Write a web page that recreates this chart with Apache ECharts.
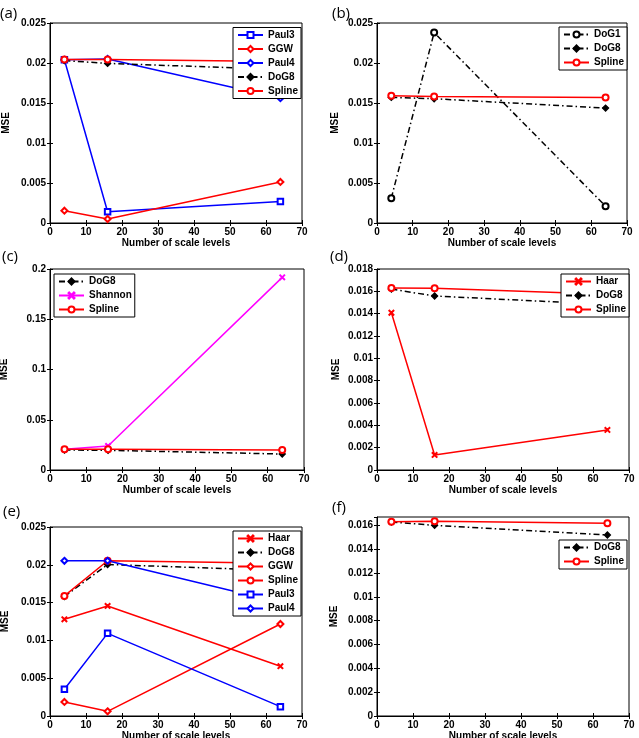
<!DOCTYPE html>
<html><head><meta charset="utf-8">
<script src="https://cdn.jsdelivr.net/npm/echarts@6.0.0/dist/echarts.min.js"></script>
<style>html,body{margin:0;padding:0;background:#fff}#c{width:639px;height:738px}</style>
</head><body><div id="c"></div>
<script>
// ---------- data ----------
const xLevels = [4, 16, 64];
const xTickRange = [0, 70, 10];
const panelLabels = ['(a)', '(b)', '(c)', '(d)', '(e)', '(f)'];
const yTickRanges = [[0, 0.025, 0.005], [0, 0.025, 0.005], [0, 0.2, 0.05], [0, 0.018, 0.002], [0, 0.025, 0.005], [0, 0.0167, 0.002]];

// (a)
const a_Paul3  = [0.0204, 0.0014, 0.0027];
const a_GGW    = [0.00154, 0.0005, 0.00513];
const a_Paul4  = [0.0204, 0.0205, 0.0156];
const a_DoG8   = [0.0203, 0.01995, 0.0192];
const a_Spline = [0.02045, 0.02045, 0.0202];
// (b)
const b_DoG1   = [0.0031, 0.0238, 0.0021];
const b_DoG8   = [0.0157, 0.01553, 0.01436];
const b_Spline = [0.0159, 0.0158, 0.0157];
// (c)
const c_DoG8    = [0.0199, 0.0196, 0.0159];
const c_Shannon = [0.0206, 0.0239, 0.1917];
const c_Spline  = [0.0206, 0.0206, 0.0199];
// (d)
const d_Haar   = [0.01408, 0.00135, 0.00359];
const d_DoG8   = [0.0162, 0.01558, 0.01483];
const d_Spline = [0.0163, 0.01627, 0.01573];
// (e)
const e_Haar   = [0.01279, 0.01456, 0.00659];
const e_DoG8   = [0.0158, 0.02004, 0.01925];
const e_GGW    = [0.00186, 0.00062, 0.01217];
const e_Spline = [0.01588, 0.02053, 0.0202];
const e_Paul3  = [0.00354, 0.01093, 0.00124];
const e_Paul4  = [0.02053, 0.02053, 0.0150];
// (f)
const f_DoG8   = [0.01628, 0.0160, 0.01519];
const f_Spline = [0.01631, 0.01634, 0.01617];

const panels = [
  [['Paul3', a_Paul3], ['GGW', a_GGW], ['Paul4', a_Paul4], ['DoG8', a_DoG8], ['Spline', a_Spline]],
  [['DoG1', b_DoG1], ['DoG8', b_DoG8], ['Spline', b_Spline]],
  [['DoG8', c_DoG8], ['Shannon', c_Shannon], ['Spline', c_Spline]],
  [['Haar', d_Haar], ['DoG8', d_DoG8], ['Spline', d_Spline]],
  [['Haar', e_Haar], ['DoG8', e_DoG8], ['GGW', e_GGW], ['Spline', e_Spline], ['Paul3', e_Paul3], ['Paul4', e_Paul4]],
  [['DoG8', f_DoG8], ['Spline', f_Spline]]
];

// ---------- styles / layout ----------
const X_MARK = 'path://M0,1L1,0L5,4L9,0L10,1L6,5L10,9L9,10L5,6L1,10L0,9L4,5Z';
const DASHDOT = [6, 3, 1.5, 3];
const styles = {
  Paul3:   {color: '#0000ff', symbol: 'emptyRect', size: 5.5, dash: 'solid'},
  GGW:     {color: '#ff0000', symbol: 'emptyDiamond', size: 6, dash: 'solid'},
  Paul4:   {color: '#0000ff', symbol: 'emptyDiamond', size: 6, dash: 'solid'},
  DoG8:    {color: '#000000', symbol: 'diamond', size: 6, dash: DASHDOT},
  Spline:  {color: '#ff0000', symbol: 'emptyCircle', size: 6, dash: 'solid'},
  DoG1:    {color: '#000000', symbol: 'emptyCircle', size: 6, dash: DASHDOT},
  Shannon: {color: '#ff00ff', symbol: X_MARK, size: 5, dash: 'solid'},
  Haar:    {color: '#ff0000', symbol: X_MARK, size: 5, dash: 'solid'}
};
const grids = [
  {left: 50, top: 23, width: 252, height: 200},
  {left: 377, top: 23, width: 250, height: 200},
  {left: 50, top: 269, width: 254, height: 201},
  {left: 377, top: 269, width: 252, height: 201},
  {left: 50, top: 527, width: 252, height: 189},
  {left: 377, top: 517, width: 252, height: 199}
];
const legendPos = [
  {left: 233, top: 27.5},
  {left: 559, top: 27},
  {left: 54, top: 274},
  {left: 561, top: 274},
  {left: 233, top: 531},
  {left: 559, top: 540}
];
const titlePos = [
  {left: 0, top: 6}, {left: 332, top: 6}, {left: 2, top: 249},
  {left: 330, top: 249}, {left: 3, top: 504}, {left: 332, top: 500}
];
const yNameGap = [39, 37, 41, 36, 40, 38];

const FONT = 'Liberation Sans';
const labelStyle = {color: '#000', fontFamily: FONT, fontWeight: 'bold', fontSize: 10};

const xAxes = [], yAxes = [], series = [], legends = [], titles = [];
grids.forEach((g, i) => {
  const [ymin, ymax, yint] = yTickRanges[i];
  xAxes.push({
    type: 'value', gridIndex: i, min: xTickRange[0], max: xTickRange[1], interval: xTickRange[2],
    name: 'Number of scale levels', nameLocation: 'middle', nameGap: 15,
    nameTextStyle: labelStyle,
    axisLine: {show: true, lineStyle: {color: '#000', width: 1}},
    axisTick: {show: true, inside: true, length: 3, lineStyle: {color: '#000'}},
    axisLabel: Object.assign({margin: 4}, labelStyle),
    splitLine: {show: false}
  });
  yAxes.push({
    type: 'value', gridIndex: i, min: ymin, max: ymax, interval: yint,
    name: 'MSE', nameLocation: 'middle', nameGap: yNameGap[i],
    nameTextStyle: labelStyle,
    axisLine: {show: true, lineStyle: {color: '#000', width: 1}},
    axisTick: {show: true, inside: true, length: 3, lineStyle: {color: '#000'}},
    axisLabel: Object.assign({margin: 4, showMaxLabel: i === 5 ? false : true}, labelStyle),
    splitLine: {show: false}
  });
});
grids.forEach((g, i) => {
  const [ymin, ymax, yint] = yTickRanges[i];
  xAxes.push({
    type: 'value', gridIndex: i, position: 'top', min: xTickRange[0], max: xTickRange[1], interval: xTickRange[2],
    axisLine: {show: false}, axisLabel: {show: false}, splitLine: {show: false},
    axisTick: {show: true, inside: true, length: 3, lineStyle: {color: '#000'}}
  });
  yAxes.push({
    type: 'value', gridIndex: i, position: 'right', min: ymin, max: ymax, interval: yint,
    axisLine: {show: false}, axisLabel: {show: false}, splitLine: {show: false},
    axisTick: {show: true, inside: true, length: 3, lineStyle: {color: '#000'}}
  });
});

panels.forEach((list, i) => {
  list.forEach(([name, vals]) => {
    const s = styles[name];
    series.push({
      type: 'line', name: name, xAxisIndex: i, yAxisIndex: i,
      data: xLevels.map((x, k) => [x, vals[k]]),
      symbol: s.symbol, symbolSize: s.size, showAllSymbol: true,
      color: s.color,
      itemStyle: {color: s.color, borderColor: s.color, borderWidth: 1.3},
      lineStyle: {color: s.color, width: 1.5, type: s.dash},
      animation: false, silent: true
    });
  });
  legends.push({
    data: list.map(d => d[0]),
    left: legendPos[i].left, top: legendPos[i].top,
    orient: 'vertical', align: 'left',
    backgroundColor: '#fff', borderColor: '#000', borderWidth: 1,
    padding: [0.5, 3, 0.5, 4], itemGap: 0,
    itemWidth: 25, itemHeight: 7.5,
    textStyle: {color: '#000', fontFamily: FONT, fontWeight: 'bold', fontSize: 10, lineHeight: 14},
    selectedMode: false
  });
  titles.push({
    text: panelLabels[i], left: titlePos[i].left, top: titlePos[i].top, padding: 0,
    textStyle: {color: '#000', fontFamily: 'Open Sans', fontWeight: 'normal', fontSize: 15}
  });
});

const chart = echarts.init(document.getElementById('c'), null, {renderer: 'canvas'});
chart.setOption({
  animation: false,
  backgroundColor: '#fff',
  title: titles,
  grid: grids.map(g => Object.assign({show: true, borderColor: '#000', borderWidth: 1, backgroundColor: 'transparent', containLabel: false, outerBoundsMode: 'none'}, g)),
  xAxis: xAxes,
  yAxis: yAxes,
  legend: legends,
  series: series
});
</script>
</body></html>
